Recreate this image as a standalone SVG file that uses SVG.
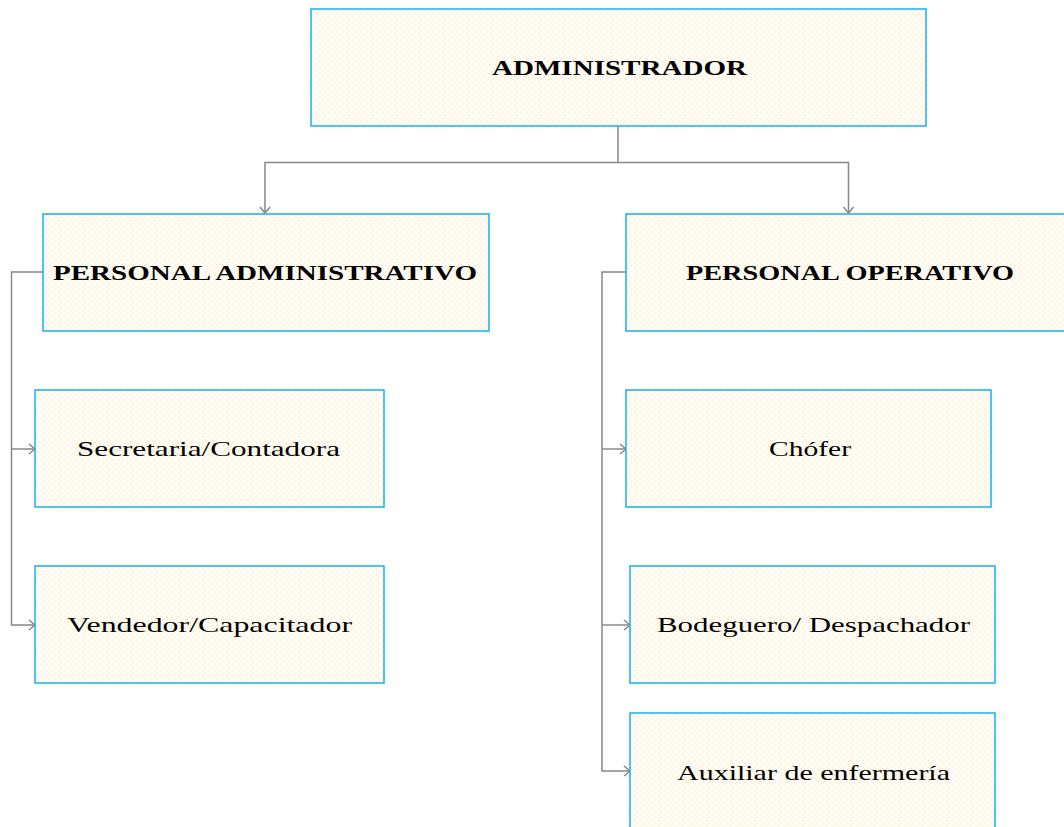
<svg xmlns="http://www.w3.org/2000/svg" width="1064" height="827" viewBox="0 0 1064 827">
<style>
.box{fill:url(#dots);stroke:#12b2ee;stroke-width:1.5}
.t{font-family:"Liberation Serif","DejaVu Serif",serif;font-size:22px;fill:#000;text-anchor:middle}
.b{font-weight:bold}
.c{fill:none;stroke:#888;stroke-width:1.5}
</style>
<defs>
<pattern id="dots" width="6" height="6" patternUnits="userSpaceOnUse">
<rect width="6" height="6" fill="#fffdf6"/>
<circle cx="1.5" cy="1.5" r="1" fill="#fcefd2"/>
<circle cx="4.5" cy="4.5" r="1" fill="#fcefd2"/>
</pattern>
<marker id="ah" markerUnits="userSpaceOnUse" markerWidth="12" markerHeight="12" viewBox="0 0 12 12" refX="10" refY="6" orient="auto">
<path d="M4,1 L10,6 L4,11" fill="none" stroke="#888" stroke-width="1.5"/>
</marker>
</defs>
<rect width="1064" height="827" fill="#fff"/>
<g id="connectors">
<path class="c" d="M618,126 V162.5 H265 V213" marker-end="url(#ah)"/>
<path class="c" d="M618,162.5 H848.5 V213" marker-end="url(#ah)"/>
<path class="c" d="M43,272 H11.5 V625 H35" marker-end="url(#ah)"/>
<path class="c" d="M11.5,449 H35" marker-end="url(#ah)"/>
<path class="c" d="M626,272 H602 V771 H630" marker-end="url(#ah)"/>
<path class="c" d="M602,449 H626" marker-end="url(#ah)"/>
<path class="c" d="M602,625 H630" marker-end="url(#ah)"/>
</g>
<g id="administrador">
<rect class="box" x="311" y="9" width="615" height="117"/>
<text class="t b" x="619.5" y="74.5" textLength="255" lengthAdjust="spacingAndGlyphs">ADMINISTRADOR</text>
</g>
<g id="personal-administrativo">
<rect class="box" x="43" y="214" width="446" height="117"/>
<text class="t b" x="265" y="279.5" textLength="424" lengthAdjust="spacingAndGlyphs">PERSONAL ADMINISTRATIVO</text>
</g>
<g id="personal-operativo">
<rect class="box" x="626" y="214" width="450" height="117"/>
<text class="t b" x="850" y="279.5" textLength="328" lengthAdjust="spacingAndGlyphs">PERSONAL OPERATIVO</text>
</g>
<g id="secretaria">
<rect class="box" x="35" y="390" width="349" height="117"/>
<text class="t" x="208.5" y="456" textLength="263" lengthAdjust="spacingAndGlyphs">Secretaria/Contadora</text>
</g>
<g id="vendedor">
<rect class="box" x="35" y="566" width="349" height="117"/>
<text class="t" x="209.5" y="632" textLength="285" lengthAdjust="spacingAndGlyphs">Vendedor/Capacitador</text>
</g>
<g id="chofer">
<rect class="box" x="626" y="390" width="365" height="117"/>
<text class="t" x="810" y="456" textLength="82" lengthAdjust="spacingAndGlyphs">Chófer</text>
</g>
<g id="bodeguero">
<rect class="box" x="630" y="566" width="365" height="117"/>
<text class="t" x="813.5" y="632" textLength="313" lengthAdjust="spacingAndGlyphs">Bodeguero/ Despachador</text>
</g>
<g id="auxiliar">
<rect class="box" x="630" y="713" width="365" height="130"/>
<text class="t" x="813.5" y="780" textLength="273" lengthAdjust="spacingAndGlyphs">Auxiliar de enfermería</text>
</g>
</svg>
